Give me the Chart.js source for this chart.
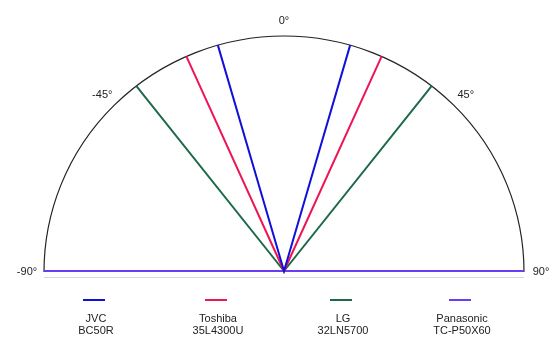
<!DOCTYPE html>
<html>
<head>
<meta charset="utf-8">
<script src="https://cdn.jsdelivr.net/npm/chart.js@4/dist/chart.umd.min.js"></script>
<style>
  body { margin: 0; background: #fff; }
  #wrap { width: 559px; height: 355px; }
</style>
</head>
<body>
<div id="wrap"><canvas id="viewChart" width="559" height="355"></canvas></div>
<script>
// viewing angle per TV, degrees off centre (left side negative)
var models = ['JVC', 'Toshiba', 'LG', 'Panasonic'];
var modelNumbers = ['BC50R', '35L4300U', '32LN5700', 'TC-P50X60'];
var leftAngles = [-16, -24, -38, -90];
var rightAngles = [16, 24, 38, 90];
var colors = ['#1010d8', '#ee1555', '#1c6a48', '#6a3cf5'];

// ticks round the half circle
var tickAngles = [-90, -45, 0, 45, 90];

function toPoint(deg) {
    var rad = deg * Math.PI / 180;
    return { x: Math.sin(rad), y: Math.cos(rad) };
}

var datasets = models.map(function(name, i) {
    return {
        label: name,
        data: [toPoint(leftAngles[i]), { x: 0, y: 0 }, toPoint(rightAngles[i])],
        borderColor: colors[i],
        backgroundColor: colors[i],
        borderWidth: 2,
        pointRadius: 0,
        showLine: true,
        fill: false,
        tension: 0,
        clip: false
    };
});

var polarFrame = {
    id: 'polarFrame',
    beforeDatasetsDraw: function(chart) {
        var ctx = chart.ctx;
        var xs = chart.scales.x, ys = chart.scales.y;
        var cx = xs.getPixelForValue(0), cy = ys.getPixelForValue(0);
        var rx = xs.getPixelForValue(1) - cx, ry = cy - ys.getPixelForValue(1);
        ctx.save();
        // faint base line
        ctx.strokeStyle = '#d8d8d8';
        ctx.lineWidth = 1;
        ctx.beginPath();
        ctx.moveTo(cx - rx, cy + 6.5);
        ctx.lineTo(cx + rx, cy + 6.5);
        ctx.stroke();
        // arc
        ctx.strokeStyle = '#222';
        ctx.lineWidth = 1.2;
        ctx.beginPath();
        ctx.ellipse(cx, cy + 1, rx, ry + 1, 0, Math.PI, 2 * Math.PI);
        ctx.stroke();
        // angle labels
        ctx.fillStyle = '#222';
        ctx.font = '11px "Liberation Sans", Arial, sans-serif';
        ctx.textAlign = 'center';
        ctx.textBaseline = 'middle';
        tickAngles.forEach(function(a) {
            var p = toPoint(a);
            var lx = cx + p.x * (rx + 17);
            var ly = cy - p.y * (ry + 16) + 1;
            ctx.fillText(a + '\u00b0', lx, ly);
        });
        ctx.restore();
    },
    afterDraw: function(chart) {
        var ctx = chart.ctx;
        var cols = [96, 218, 343, 462];
        ctx.save();
        ctx.font = '11px "Liberation Sans", Arial, sans-serif';
        ctx.textAlign = 'center';
        ctx.textBaseline = 'middle';
        models.forEach(function(name, i) {
            var c = cols[i];
            ctx.strokeStyle = colors[i];
            ctx.lineWidth = 2;
            ctx.beginPath();
            ctx.moveTo(c - 13, 300);
            ctx.lineTo(c + 9, 300);
            ctx.stroke();
            ctx.fillStyle = '#222';
            ctx.fillText(name, c, 319);
            ctx.fillText(modelNumbers[i], c, 331);
        });
        ctx.restore();
    }
};

var viewChart = new Chart(document.getElementById('viewChart'), {
    type: 'scatter',
    data: { datasets: datasets },
    options: {
        responsive: false,
        animation: false,
        layout: {
            padding: { left: 44, right: 35, top: 36, bottom: 84 }
        },
        scales: {
            x: { type: 'linear', min: -1, max: 1, display: false },
            y: { type: 'linear', min: 0, max: 1, display: false }
        },
        plugins: {
            legend: { display: false },
            tooltip: { enabled: false }
        }
    },
    plugins: [polarFrame]
});
</script>
</body>
</html>
